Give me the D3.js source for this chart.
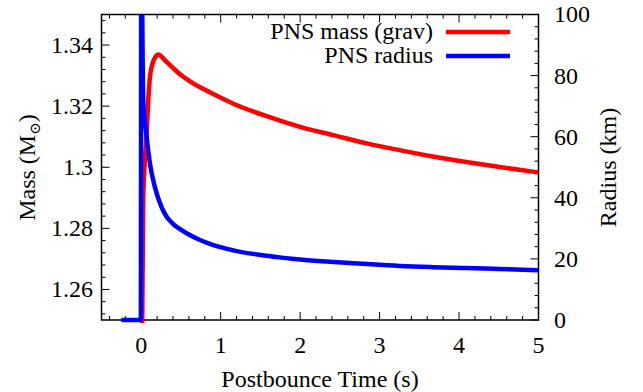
<!DOCTYPE html>
<html>
<head>
<meta charset="utf-8">
<script src="https://cdn.jsdelivr.net/npm/d3@7"></script>
<style>
  html, body { margin: 0; padding: 0; background: #fff; }
  svg { display: block; }
</style>
</head>
<body>
<svg id="chart" width="643" height="392" font-family="'Liberation Serif', 'Times New Roman', Times, serif"></svg>
<script>
// ---- data ----
const massTime = [-0.25, 0.0, 0.013, 0.025, 0.045, 0.068, 0.088, 0.109, 0.143, 0.18, 0.214, 0.30, 0.40, 0.50, 0.61, 0.74, 0.87, 1.16, 1.58, 2.0, 2.42, 2.84, 3.25, 3.67, 4.09, 4.51, 5.0];
const massValue = [1.20, 1.20, 1.25, 1.289, 1.302, 1.311, 1.3219, 1.3294, 1.334, 1.3362, 1.3369, 1.3350, 1.3325, 1.3302, 1.3282, 1.3262, 1.3245, 1.3208, 1.3167, 1.3132, 1.3105, 1.3078, 1.3056, 1.3035, 1.3017, 1.3001, 1.2983];
const radiusTime = [-0.25, -0.005, 0.0, 0.025, 0.059, 0.109, 0.172, 0.257, 0.32, 0.399, 0.48, 0.571, 0.74, 0.9, 1.16, 1.58, 2.0, 2.42, 2.84, 3.25, 3.67, 4.09, 4.51, 5.0];
const radiusValue = [0, 0, 130, 71.9, 62.1, 51.3, 43.5, 36.9, 33.8, 31.5, 29.9, 28.4, 26.2, 24.6, 22.8, 21.0, 19.8, 19.0, 18.3, 17.7, 17.3, 17.0, 16.7, 16.3];
const xTickValues = [0, 1, 2, 3, 4, 5];
const yTickValues = [1.26, 1.28, 1.3, 1.32, 1.34];
const yTickLabels = ["1.26", "1.28", "1.3", "1.32", "1.34"];
const y2TickValues = [0, 20, 40, 60, 80, 100];
const seriesNames = ["PNS mass (grav)", "PNS radius"];
const seriesColors = ["#ff0000", "#0000ff"];

// ---- layout ----
const FONT = "'Liberation Serif', 'Times New Roman', Times, serif";
const svg = d3.select("#chart");
const L = 101.5, R = 538.5, T = 14.5, B = 320;
const x = d3.scaleLinear().domain([-0.5, 5]).range([L, R]);
const y = d3.scaleLinear().domain([1.25, 1.35]).range([B, T]);
const y2 = d3.scaleLinear().domain([0, 100]).range([B, T]);

const majorLen = 8, minorLen = 4;
const tickColor = "#000";

const xMinor = d3.range(-0.4, 5.0001, 0.2).map(v => +v.toFixed(3)).filter(v => Math.abs(v - Math.round(v)) > 1e-6);
const yMinor = d3.range(1.252, 1.3501, 0.004).map(v => +v.toFixed(4)).filter(v => !yTickValues.some(t => Math.abs(t - v) < 1e-6));
const y2Minor = d3.range(4, 100, 4).filter(v => v % 20 !== 0);

const g = svg.append("g");

function vTicks(vals, len) {
  vals.forEach(v => {
    g.append("line").attr("x1", x(v)).attr("x2", x(v)).attr("y1", B).attr("y2", B - len)
      .attr("stroke", tickColor).attr("stroke-width", 1);
    g.append("line").attr("x1", x(v)).attr("x2", x(v)).attr("y1", T).attr("y2", T + len)
      .attr("stroke", tickColor).attr("stroke-width", 1);
  });
}
vTicks(xTickValues, majorLen);
vTicks(xMinor, minorLen);

function lTicks(vals, len) {
  vals.forEach(v => {
    g.append("line").attr("x1", L).attr("x2", L + len).attr("y1", y(v)).attr("y2", y(v))
      .attr("stroke", tickColor).attr("stroke-width", 1);
  });
}
lTicks(yTickValues, majorLen);
lTicks(yMinor, minorLen);

function rTicks(vals, len) {
  vals.forEach(v => {
    g.append("line").attr("x1", R).attr("x2", R - len).attr("y1", y2(v)).attr("y2", y2(v))
      .attr("stroke", tickColor).attr("stroke-width", 1);
  });
}
rTicks(y2TickValues, majorLen);
rTicks(y2Minor, minorLen);

g.append("rect").attr("x", L).attr("y", T).attr("width", R - L).attr("height", B - T)
  .attr("fill", "none").attr("stroke", "#000").attr("stroke-width", 1.5);

const fs = 24;
function txt(sel) { return sel.attr("font-family", FONT).attr("fill", "#000"); }

xTickValues.forEach(v => {
  txt(g.append("text")).attr("x", x(v)).attr("y", 353).attr("text-anchor", "middle")
    .attr("font-size", fs).text(String(v));
});
yTickValues.forEach((v, i) => {
  txt(g.append("text")).attr("x", 93).attr("y", y(v)).attr("dy", "0.33em").attr("text-anchor", "end")
    .attr("font-size", fs).text(yTickLabels[i]);
});
y2TickValues.forEach(v => {
  txt(g.append("text")).attr("x", 554).attr("y", y2(v)).attr("dy", "0.33em").attr("text-anchor", "start")
    .attr("font-size", fs).text(String(v));
});

txt(g.append("text")).attr("x", (L + R) / 2).attr("y", 387).attr("text-anchor", "middle")
  .attr("font-size", fs).text("Postbounce Time (s)");

const yt = txt(g.append("text")).attr("transform", "translate(35,167.5) rotate(-90)")
  .attr("text-anchor", "middle").attr("font-size", fs);
yt.append("tspan").text("Mass (M");
yt.append("tspan").attr("font-size", 15).attr("dy", 5).attr("font-family", "'DejaVu Serif', 'DejaVu Sans'").text("\u2299");
yt.append("tspan").attr("dy", -5).text(")");

txt(g.append("text")).attr("transform", "translate(616,167.5) rotate(-90)")
  .attr("text-anchor", "middle").attr("font-size", fs).text("Radius (km)");

svg.append("clipPath").attr("id", "clip").append("rect")
  .attr("x", L).attr("y", T).attr("width", R - L).attr("height", B - T + 3);

const plot = svg.append("g").attr("clip-path", "url(#clip)");

const massLine = d3.line().x(d => x(d[0])).y(d => y(d[1])).curve(d3.curveMonotoneX);
const radLine = d3.line().x(d => x(d[0])).y(d => y2(d[1])).curve(d3.curveMonotoneX);

plot.append("path").datum(d3.zip(massTime, massValue)).attr("d", massLine)
  .attr("fill", "none").attr("stroke", seriesColors[0]).attr("stroke-width", 4.5).attr("stroke-linejoin", "round");
plot.append("path").datum(d3.zip(radiusTime, radiusValue)).attr("d", radLine)
  .attr("fill", "none").attr("stroke", seriesColors[1]).attr("stroke-width", 4.5).attr("stroke-linejoin", "round");

const legendY = [32, 56];
seriesNames.forEach((name, i) => {
  txt(g.append("text")).attr("x", 433).attr("y", legendY[i]).attr("dy", "0.3em").attr("text-anchor", "end")
    .attr("font-size", fs).text(name);
  svg.append("line").attr("x1", 446).attr("x2", 510).attr("y1", legendY[i]).attr("y2", legendY[i])
    .attr("stroke", seriesColors[i]).attr("stroke-width", 4.5);
});
</script>
</body>
</html>
